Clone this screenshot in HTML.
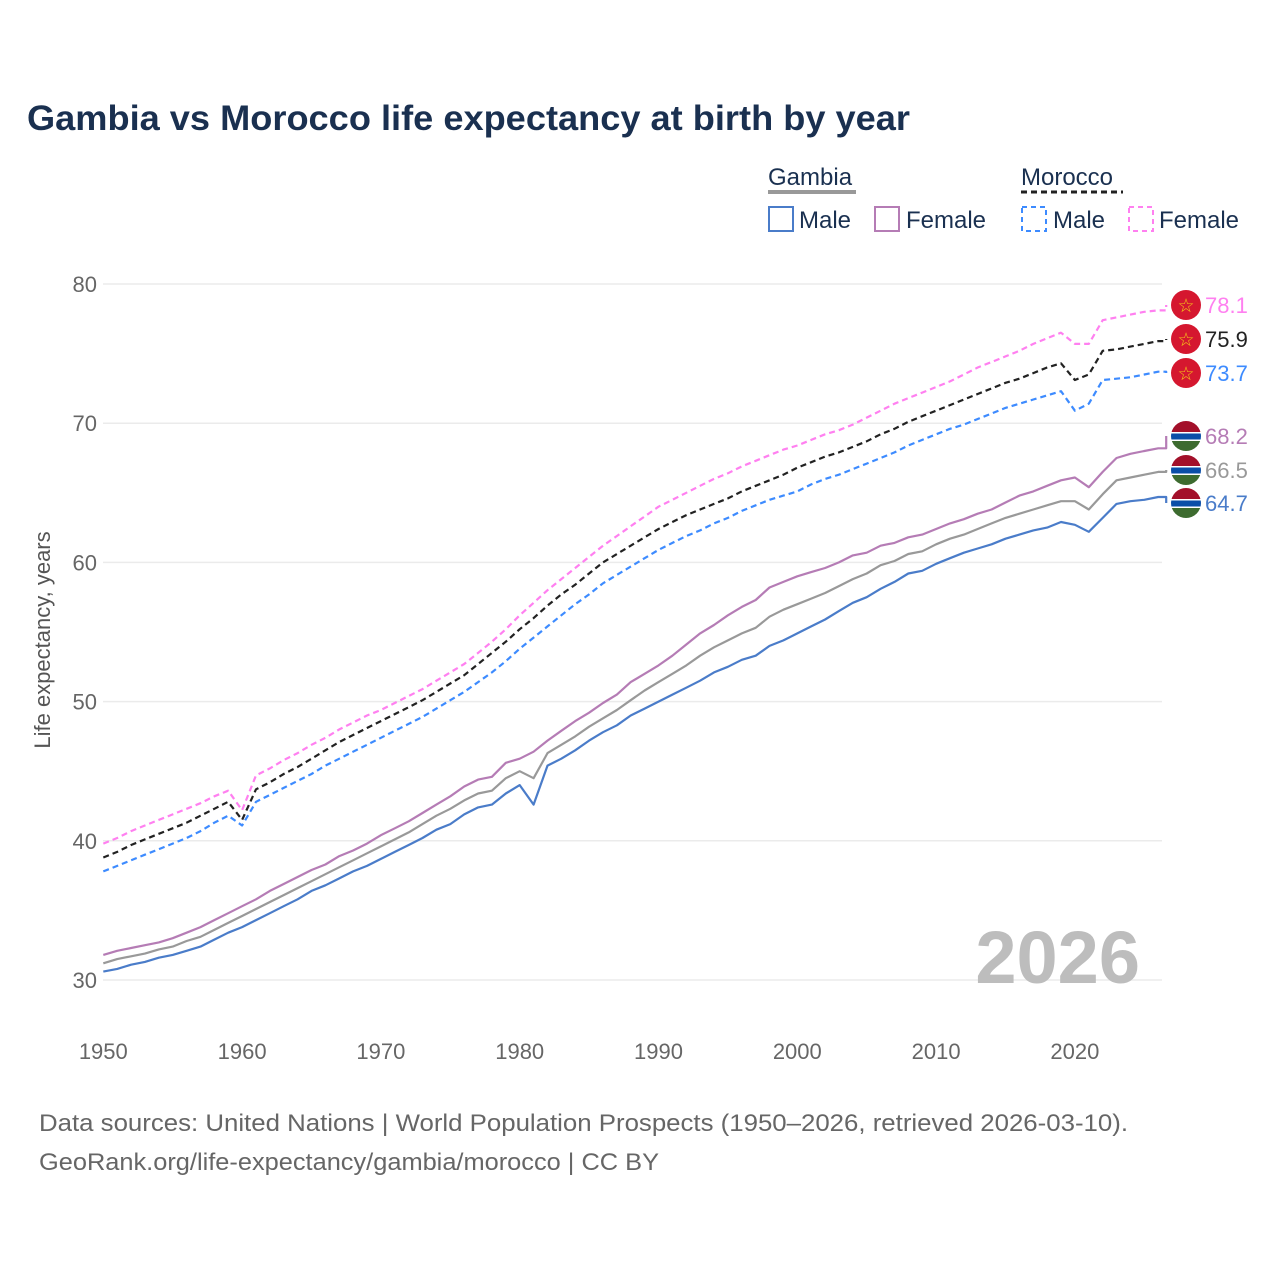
<!DOCTYPE html>
<html><head><meta charset="utf-8"><style>
html,body{margin:0;padding:0;background:#fff;}
svg text{font-family:"Liberation Sans",sans-serif;}
</style></head><body>
<svg id="chart" width="1280" height="1280" viewBox="0 0 1280 1280" xmlns="http://www.w3.org/2000/svg">
<text x="27" y="130" font-size="35" font-weight="bold" fill="#1a3050" textLength="883" lengthAdjust="spacingAndGlyphs">Gambia vs Morocco life expectancy at birth by year</text>
<g>
<text x="768" y="185" font-size="24" fill="#1a3050">Gambia</text>
<line x1="768" y1="192" x2="856" y2="192" stroke="#999" stroke-width="4"/>
<rect x="769" y="207" width="24" height="24" fill="none" stroke="#4a7cc9" stroke-width="2"/>
<text x="799" y="228" font-size="24" fill="#1a3050">Male</text>
<rect x="875" y="207" width="24" height="24" fill="none" stroke="#b57cb5" stroke-width="2"/>
<text x="906" y="228" font-size="24" fill="#1a3050">Female</text>
<text x="1021" y="185" font-size="24" fill="#1a3050">Morocco</text>
<line x1="1021" y1="192" x2="1123" y2="192" stroke="#222" stroke-width="3" stroke-dasharray="6,4"/>
<rect x="1022" y="207" width="24" height="24" fill="none" stroke="#3d8bff" stroke-width="2" stroke-dasharray="5,4"/>
<text x="1053" y="228" font-size="24" fill="#1a3050">Male</text>
<rect x="1129" y="207" width="24" height="24" fill="none" stroke="#ff80f0" stroke-width="2" stroke-dasharray="5,4"/>
<text x="1159" y="228" font-size="24" fill="#1a3050">Female</text>
</g>
<g id="grid"></g>
<g id="axes"></g>
<text x="1140" y="983" font-size="74" font-weight="bold" fill="#bdbdbd" text-anchor="end">2026</text>
<text transform="translate(50,640) rotate(-90)" font-size="22" fill="#555" text-anchor="middle">Life expectancy, years</text>
<g id="series"></g>
<g id="endlabels"></g>
<text x="39" y="1131" font-size="24" fill="#666" textLength="1089" lengthAdjust="spacingAndGlyphs">Data sources: United Nations | World Population Prospects (1950–2026, retrieved 2026-03-10).</text>
<text x="39" y="1170" font-size="24" fill="#666" textLength="620" lengthAdjust="spacingAndGlyphs">GeoRank.org/life-expectancy/gambia/morocco | CC BY</text>
</svg>
<script>
const startYear = 1950;
const xTickLabels = [1950,1960,1970,1980,1990,2000,2010,2020];
const yTickLabels = [30,40,50,60,70,80];
const moroccoTotal = [38.8,39.2,39.7,40.1,40.5,40.9,41.3,41.8,42.3,42.8,
41.5,43.7,44.2,44.8,45.3,45.9,46.5,47.1,47.6,48.1,
48.6,49.1,49.6,50.1,50.7,51.3,51.9,52.7,53.5,54.3,
55.2,56.0,56.9,57.7,58.4,59.2,60.0,60.6,61.2,61.8,
62.4,62.9,63.4,63.8,64.2,64.6,65.1,65.5,65.9,66.3,
66.8,67.2,67.6,67.9,68.3,68.7,69.2,69.6,70.1,70.5,
70.9,71.3,71.7,72.1,72.5,72.9,73.2,73.6,74.0,74.3,
73.1,73.5,75.2,75.3,75.5,75.7,75.9];
const moroccoFemale = [39.8,40.2,40.7,41.1,41.5,41.9,42.3,42.7,43.2,43.6,
42.2,44.7,45.2,45.8,46.3,46.9,47.4,48.0,48.5,49.0,
49.4,49.9,50.4,50.9,51.5,52.1,52.7,53.5,54.3,55.2,
56.2,57.1,58.0,58.8,59.6,60.4,61.2,61.9,62.6,63.3,
64.0,64.5,65.0,65.5,66.0,66.4,66.9,67.3,67.7,68.1,
68.4,68.8,69.2,69.5,69.9,70.4,70.9,71.4,71.8,72.2,
72.6,73.0,73.5,74.0,74.4,74.8,75.2,75.7,76.1,76.5,
75.7,75.7,77.4,77.6,77.8,78.0,78.1];
const moroccoMale = [37.8,38.2,38.6,39.0,39.4,39.8,40.2,40.7,41.3,41.8,
41.1,42.8,43.3,43.8,44.3,44.8,45.4,45.9,46.4,46.9,
47.4,47.9,48.4,48.9,49.5,50.1,50.7,51.4,52.1,52.9,
53.8,54.6,55.4,56.2,57.0,57.7,58.5,59.1,59.7,60.3,
60.9,61.4,61.9,62.3,62.8,63.2,63.7,64.1,64.5,64.8,
65.1,65.6,66.0,66.3,66.7,67.1,67.5,67.9,68.4,68.8,
69.2,69.6,69.9,70.3,70.7,71.1,71.4,71.7,72.0,72.3,
70.9,71.4,73.1,73.2,73.3,73.5,73.7];
const gambiaTotal = [31.2,31.5,31.7,31.9,32.2,32.4,32.8,33.1,33.6,34.1,
34.6,35.1,35.6,36.1,36.6,37.1,37.6,38.1,38.6,39.1,
39.6,40.1,40.6,41.2,41.8,42.3,42.9,43.4,43.6,44.5,
45.0,44.5,46.3,46.9,47.5,48.2,48.8,49.4,50.1,50.8,
51.4,52.0,52.6,53.3,53.9,54.4,54.9,55.3,56.1,56.6,
57.0,57.4,57.8,58.3,58.8,59.2,59.8,60.1,60.6,60.8,
61.3,61.7,62.0,62.4,62.8,63.2,63.5,63.8,64.1,64.4,
64.4,63.8,64.9,65.9,66.1,66.3,66.5];
const gambiaMale = [30.6,30.8,31.1,31.3,31.6,31.8,32.1,32.4,32.9,33.4,
33.8,34.3,34.8,35.3,35.8,36.4,36.8,37.3,37.8,38.2,
38.7,39.2,39.7,40.2,40.8,41.2,41.9,42.4,42.6,43.4,
44.0,42.6,45.4,45.9,46.5,47.2,47.8,48.3,49.0,49.5,
50.0,50.5,51.0,51.5,52.1,52.5,53.0,53.3,54.0,54.4,
54.9,55.4,55.9,56.5,57.1,57.5,58.1,58.6,59.2,59.4,
59.9,60.3,60.7,61.0,61.3,61.7,62.0,62.3,62.5,62.9,
62.7,62.2,63.2,64.2,64.4,64.5,64.7];
const gambiaFemale = [31.8,32.1,32.3,32.5,32.7,33.0,33.4,33.8,34.3,34.8,
35.3,35.8,36.4,36.9,37.4,37.9,38.3,38.9,39.3,39.8,
40.4,40.9,41.4,42.0,42.6,43.2,43.9,44.4,44.6,45.6,
45.9,46.4,47.2,47.9,48.6,49.2,49.9,50.5,51.4,52.0,
52.6,53.3,54.1,54.9,55.5,56.2,56.8,57.3,58.2,58.6,
59.0,59.3,59.6,60.0,60.5,60.7,61.2,61.4,61.8,62.0,
62.4,62.8,63.1,63.5,63.8,64.3,64.8,65.1,65.5,65.9,
66.1,65.4,66.5,67.5,67.8,68.0,68.2];

const NS = "http://www.w3.org/2000/svg";
function xScale(yr){ return 103.3 + (yr - 1950) * 13.88; }
function yScale(v){ return 980 - (v - 30) * 13.92; }
function mk(tag, attrs, parent){ const e = document.createElementNS(NS, tag); for (const k in attrs) e.setAttribute(k, attrs[k]); parent.appendChild(e); return e; }

const grid = document.getElementById('grid');
const axes = document.getElementById('axes');
yTickLabels.forEach(v => {
  const l = mk('line', {x1:103, x2:1162, y1:yScale(v), y2:yScale(v), stroke:'#ebebeb', 'stroke-width':1.5}, grid);
  
  
  const t = mk('text', {x:97, y:yScale(v)+8, 'font-size':22, fill:'#666', 'text-anchor':'end'}, axes);
  t.textContent = v;
  
  
});
xTickLabels.forEach(yr => {
  const t = mk('text', {x:xScale(yr), y:1059, 'font-size':22, fill:'#666', 'text-anchor':'middle'}, axes);
  t.textContent = yr;
  
  
});

const series = [
  {vals:gambiaMale, color:'#4a7cc9', dash:null, labelY:503, flag:'gm', name:'gambia-male'},
  {vals:gambiaTotal, color:'#999', dash:null, labelY:470, flag:'gm', name:'gambia-total'},
  {vals:gambiaFemale, color:'#b57cb5', dash:null, labelY:436, flag:'gm', name:'gambia-female'},
  {vals:moroccoMale, color:'#3d8bff', dash:'6,4', labelY:373, flag:'ma', name:'morocco-male'},
  {vals:moroccoTotal, color:'#222', dash:'6,4', labelY:339, flag:'ma', name:'morocco-total'},
  {vals:moroccoFemale, color:'#ff80f0', dash:'6,4', labelY:305, flag:'ma', name:'morocco-female'}
];
const sg = document.getElementById('series');
const eg = document.getElementById('endlabels');
series.forEach(s => {
  const pts = s.vals.map((v,i) => xScale(startYear+i).toFixed(1)+','+yScale(v).toFixed(1));
  const lastX = xScale(startYear + s.vals.length - 1);
  const lastY = yScale(s.vals[s.vals.length-1]);
  pts.push((lastX+8).toFixed(1)+','+lastY.toFixed(1));
  pts.push((lastX+8).toFixed(1)+','+s.labelY);
  const a = {points:pts.join(' '), fill:'none', stroke:s.color, 'stroke-width':2.2, 'stroke-linejoin':'round'};
  if (s.dash) a['stroke-dasharray'] = s.dash;
  const pl = mk('polyline', a, sg);
  
  
  const cx = 1186, cy = s.labelY;
  const fg = mk('g', {}, eg);
  
  
  if (s.flag === 'ma') {
    mk('circle', {cx:cx, cy:cy, r:15, fill:'#d5172f'}, fg);
    const st = mk('text', {x:cx, y:cy+7, 'font-size':19, fill:'#f5c518', 'text-anchor':'middle'}, fg);
    st.textContent = '☆';
  } else {
    const cid = 'clip' + s.name;
    const cp = mk('clipPath', {id:cid}, fg);
    mk('circle', {cx:cx, cy:cy, r:15}, cp);
    const gg = mk('g', {'clip-path':'url(#'+cid+')'}, fg);
    mk('rect', {x:cx-15, y:cy-15, width:30, height:11, fill:'#a3102a'}, gg);
    mk('rect', {x:cx-15, y:cy-4, width:30, height:9, fill:'#fff'}, gg);
    mk('rect', {x:cx-15, y:cy-2.5, width:30, height:6, fill:'#0a4ea8'}, gg);
    mk('rect', {x:cx-15, y:cy+5, width:30, height:10, fill:'#3d6b2f'}, gg);
  }
  const t = mk('text', {x:1205, y:cy+8, 'font-size':22, fill:s.color}, eg);
  t.textContent = s.vals[s.vals.length-1].toFixed(1);
  
  
});
</script>
</body></html>
